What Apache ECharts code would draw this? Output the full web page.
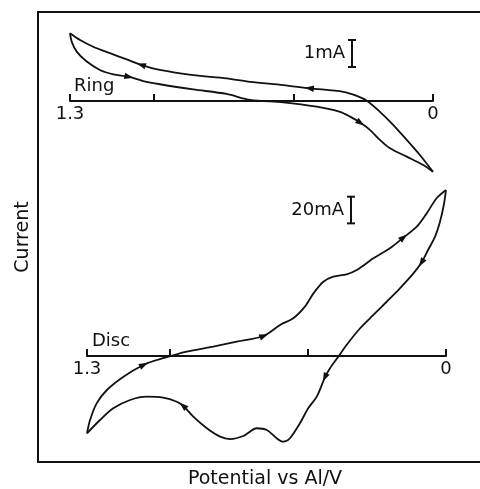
<!DOCTYPE html>
<html>
<head>
<meta charset="utf-8">
<title>Ring-disc voltammogram</title>
<script src="https://cdn.jsdelivr.net/npm/echarts@6/dist/echarts.min.js"></script>
<style>
  html, body { margin: 0; padding: 0; background: #fff; }
  #chart { width: 480px; height: 489px; }
</style>
</head>
<body>
<div id="chart"></div>
<script>
  // potential in V vs Al, current in mA; each branch listed in scan order
  var ringUpperV = [0.00, 0.047, 0.094, 0.142, 0.190, 0.237, 0.273, 0.321, 0.441, 0.536, 0.655, 0.739, 0.859, 0.978, 1.043, 1.097, 1.157, 1.217, 1.264, 1.300];
  var ringUpperI = [-2.62, -2.00, -1.44, -0.89, -0.40, 0.01, 0.19, 0.34, 0.47, 0.59, 0.71, 0.84, 0.96, 1.15, 1.33, 1.54, 1.77, 2.01, 2.26, 2.51];
  var ringLowerV = [1.300, 1.294, 1.276, 1.240, 1.193, 1.145, 1.091, 1.038, 0.978, 0.859, 0.739, 0.655, 0.536, 0.417, 0.333, 0.297, 0.261, 0.226, 0.190, 0.154, 0.094, 0.035, 0.00];
  var ringLowerI = [2.51, 2.20, 1.83, 1.46, 1.15, 0.99, 0.90, 0.74, 0.62, 0.43, 0.26, 0.04, -0.05, -0.21, -0.40, -0.58, -0.80, -1.07, -1.44, -1.75, -2.06, -2.37, -2.62];

  var discLowerV = [0.00, 0.008, 0.022, 0.040, 0.065, 0.088, 0.118, 0.167, 0.215, 0.263, 0.311, 0.360, 0.390, 0.420, 0.438, 0.468, 0.499, 0.529, 0.565, 0.589, 0.613, 0.649, 0.685, 0.734, 0.782, 0.818, 0.866, 0.915, 0.951, 0.975, 1.024, 1.084, 1.144, 1.205, 1.253, 1.300];
  var discLowerI = [124.5, 113.3, 100.5, 89.3, 79.5, 70.3, 62.0, 50.8, 40.7, 30.8, 20.8, 8.3, -0.5, -9.2, -15.8, -30.5, -39.2, -50.5, -61.7, -64.3, -61.7, -55.5, -54.2, -60.0, -62.3, -60.5, -54.2, -45.5, -37.5, -34.3, -31.3, -30.5, -33.0, -39.2, -48.0, -58.0];
  var discUpperV = [1.300, 1.289, 1.265, 1.228, 1.168, 1.096, 1.047, 1.005, 0.939, 0.843, 0.758, 0.661, 0.601, 0.553, 0.511, 0.480, 0.444, 0.408, 0.360, 0.323, 0.263, 0.203, 0.155, 0.106, 0.070, 0.034, 0.00];
  var discUpperI = [-58.0, -48.0, -35.5, -25.5, -15.5, -6.8, -3.0, -0.5, 3.2, 7.0, 10.7, 15.0, 23.3, 28.3, 37.0, 47.0, 55.7, 59.5, 61.3, 64.5, 73.3, 80.8, 88.7, 97.0, 107.0, 118.3, 124.5];

  // where the direction arrows sit (index into the branch)
  var ringUpperArrows = [8, 14];
  var ringLowerArrows = [6, 16];
  var discLowerArrows = [5, 14, 28];
  var discUpperArrows = [5, 11, 22];

  var tickValues = [0, 0.5, 1.0, 1.3];
  var labelValues = [0, 1.3];

  // scale bars: [potential, bottom current, top current, text]
  var ringScale = [0.29, 1.26, 2.26, '1mA'];
  var discScale = [0.344, 99.5, 119.5, '20mA'];

  var INK = '#111';
  var FONT = 'DejaVu Sans';

  function pairs(v, c) {
    return v.map(function (x, i) { return [x, c[i]]; });
  }

  function arrowData(v, c, idx) {
    return idx.map(function (i) {
      return [v[i], c[i], v[i - 1], c[i - 1], v[i + 1], c[i + 1]];
    });
  }

  function renderArrow(params, api) {
    var p = api.coord([api.value(0), api.value(1)]);
    var a = api.coord([api.value(2), api.value(3)]);
    var b = api.coord([api.value(4), api.value(5)]);
    var dx = b[0] - a[0], dy = b[1] - a[1];
    var len = Math.sqrt(dx * dx + dy * dy) || 1;
    dx /= len; dy /= len;
    var nx = -dy, ny = dx;
    return {
      type: 'polygon',
      shape: { points: [
        [p[0] + dx * 5, p[1] + dy * 5],
        [p[0] - dx * 4 + nx * 3.2, p[1] - dy * 4 + ny * 3.2],
        [p[0] - dx * 4 - nx * 3.2, p[1] - dy * 4 - ny * 3.2]
      ] },
      style: { fill: INK }
    };
  }

  function renderScale(params, api) {
    var lo = api.coord([api.value(0), api.value(1)]);
    var hi = api.coord([api.value(0), api.value(2)]);
    var st = { stroke: INK, lineWidth: 2 };
    return {
      type: 'group',
      children: [
        { type: 'line', shape: { x1: lo[0], y1: lo[1], x2: hi[0], y2: hi[1] }, style: st },
        { type: 'line', shape: { x1: lo[0] - 4, y1: lo[1], x2: lo[0] + 4, y2: lo[1] }, style: st },
        { type: 'line', shape: { x1: hi[0] - 4, y1: hi[1], x2: hi[0] + 4, y2: hi[1] }, style: st },
        { type: 'text', x: lo[0] - 7, y: (lo[1] + hi[1]) / 2,
          style: { text: api.value(3), fill: INK, font: '18px "' + FONT + '"', align: 'right', verticalAlign: 'middle' } }
      ]
    };
  }

  // the zero-current line sits on the grid's bottom edge
  function zeroAxis(grid) {
    return {
      gridIndex: grid, type: 'value', inverse: true, min: 0, max: 1.3, position: 'bottom',
      axisLine: { onZero: false, lineStyle: { color: INK, width: 2 } },
      axisTick: { inside: true, length: 7, customValues: tickValues, lineStyle: { color: INK, width: 2 } },
      axisLabel: { customValues: labelValues, fontSize: 18, color: INK, fontFamily: FONT, margin: 4 },
      splitLine: { show: false }
    };
  }

  function curve(name, x, y, data) {
    return {
      name: name, type: 'line', xAxisIndex: x, yAxisIndex: y, data: data,
      smooth: 0.3, showSymbol: false, clip: false, silent: true,
      lineStyle: { color: INK, width: 1.8 }
    };
  }

  function arrows(x, y, data) {
    return { type: 'custom', xAxisIndex: x, yAxisIndex: y, data: data, renderItem: renderArrow, clip: false, silent: true };
  }

  var chart = echarts.init(document.getElementById('chart'));
  chart.setOption({
    animation: false,
    backgroundColor: '#fff',
    grid: [
      { left: 70, top: 20, width: 363, height: 81, outerBoundsMode: 'none', containLabel: false },
      { left: 87, top: 182.7, width: 359, height: 173.3, outerBoundsMode: 'none', containLabel: false },
      { left: 38, top: 12, right: 0, bottom: 27, outerBoundsMode: 'none', containLabel: false }
    ],
    xAxis: [
      zeroAxis(0),
      zeroAxis(1),
      {
        gridIndex: 2, type: 'value', min: 0, max: 1, position: 'bottom',
        axisLine: { onZero: false, lineStyle: { color: INK, width: 2 } },
        axisTick: { show: false }, axisLabel: { show: false }, splitLine: { show: false },
        name: 'Potential vs Al/V', nameLocation: 'middle', nameGap: 8,
        nameTextStyle: { fontSize: 19, color: INK, fontFamily: FONT, padding: [0, 0, 0, 12] }
      },
      {
        gridIndex: 2, type: 'value', min: 0, max: 1, position: 'top',
        axisLine: { onZero: false, lineStyle: { color: INK, width: 2 } },
        axisTick: { show: false }, axisLabel: { show: false }, splitLine: { show: false }
      }
    ],
    yAxis: [
      { gridIndex: 0, type: 'value', min: 0, max: 3, show: false },
      { gridIndex: 1, type: 'value', min: 0, max: 130, show: false },
      {
        gridIndex: 2, type: 'value', min: 0, max: 1,
        axisLine: { show: true, onZero: false, lineStyle: { color: INK, width: 2 } },
        axisTick: { show: false }, axisLabel: { show: false }, splitLine: { show: false },
        name: 'Current', nameLocation: 'middle', nameGap: 5,
        nameTextStyle: { fontSize: 19, color: INK, fontFamily: FONT }
      }
    ],
    graphic: [
      { type: 'text', left: 74, top: 77, style: { text: 'Ring', fill: INK, font: '18px "' + FONT + '"' } },
      { type: 'text', left: 92, top: 332, style: { text: 'Disc', fill: INK, font: '18px "' + FONT + '"' } }
    ],
    series: [
      curve('ring anodic', 0, 0, pairs(ringUpperV, ringUpperI)),
      curve('ring cathodic', 0, 0, pairs(ringLowerV, ringLowerI)),
      curve('disc forward', 1, 1, pairs(discLowerV, discLowerI)),
      curve('disc reverse', 1, 1, pairs(discUpperV, discUpperI)),
      arrows(0, 0, arrowData(ringUpperV, ringUpperI, ringUpperArrows)),
      arrows(0, 0, arrowData(ringLowerV, ringLowerI, ringLowerArrows)),
      arrows(1, 1, arrowData(discLowerV, discLowerI, discLowerArrows)),
      arrows(1, 1, arrowData(discUpperV, discUpperI, discUpperArrows)),
      { type: 'custom', xAxisIndex: 0, yAxisIndex: 0, data: [ringScale], renderItem: renderScale, clip: false, silent: true },
      { type: 'custom', xAxisIndex: 1, yAxisIndex: 1, data: [discScale], renderItem: renderScale, clip: false, silent: true }
    ]
  });
</script>
</body>
</html>
